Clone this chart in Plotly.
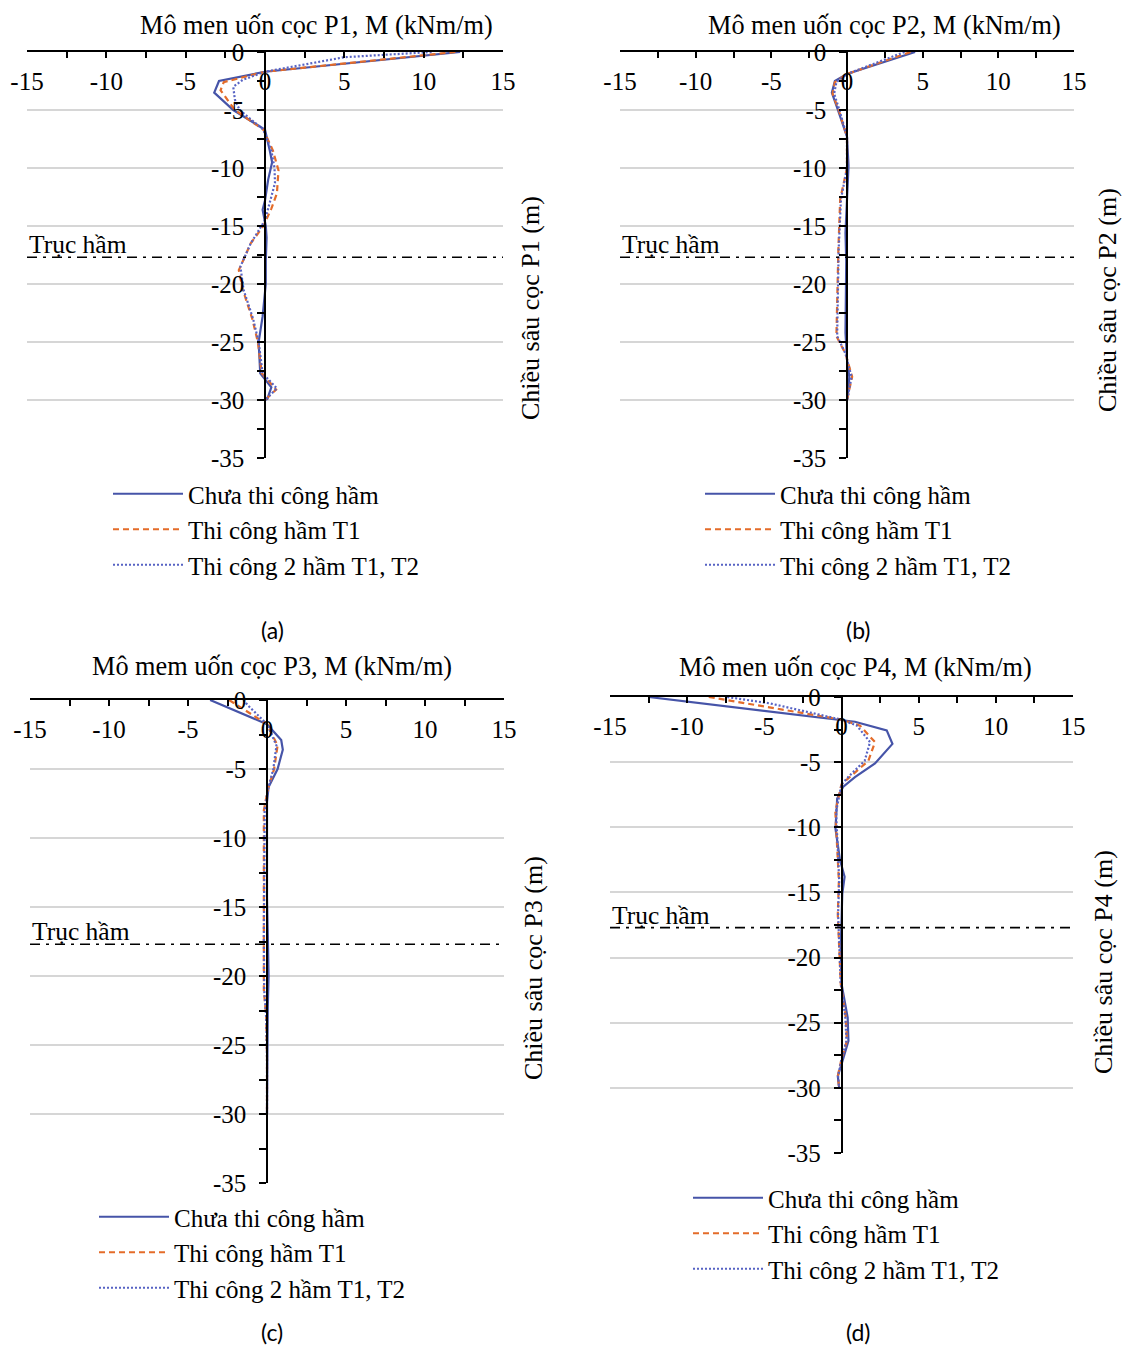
import plotly.graph_objects as go

W, H = 1125, 1347

# ---------------- data (depth z in m, moment M in kNm/m) ----------------
series_names = ["Chưa thi công hầm", "Thi công hầm T1", "Thi công 2 hầm T1, T2"]

x_tick_vals = [-15, -10, -5, 0, 5, 10, 15]
x_tick_text = ["-15", "-10", "-5", "0", "5", "10", "15"]
y_tick_vals = [0, -5, -10, -15, -20, -25, -30, -35]
y_tick_text = ["0", "-5", "-10", "-15", "-20", "-25", "-30", "-35"]

# Panel (a) - P1
A_z0 = [0, -1.7, -2.5, -3.5, -5.0, -6.7, -8.5, -9.5, -11.0, -12.8, -13.6, -15.0, -16.0, -18.0, -20.0, -22.8, -25.0, -27.7, -28.9, -29.9, -30.0]
A_m0 = [12.3, 0.0, -2.9, -3.2, -2.0, 0.0, 0.3, 0.45, 0.2, 0.0, -0.15, 0.05, 0.1, 0.05, 0.05, -0.15, -0.4, -0.3, 0.4, 0.15, 0.0]
A_z1 = [0, -1.7, -2.6, -3.3, -5.0, -6.7, -8.5, -10.2, -12.2, -13.5, -15.0, -16.5, -18.8, -20.5, -23.0, -25.0, -27.7, -29.1, -30.0]
A_m1 = [12.0, 0.0, -2.6, -2.8, -1.9, -0.1, 0.5, 0.85, 0.75, 0.4, -0.1, -0.9, -1.65, -1.4, -0.8, -0.45, -0.2, 0.7, 0.0]
A_z2 = [0, -0.45, -1.7, -2.4, -3.0, -4.1, -5.0, -6.7, -8.5, -10.0, -11.3, -13.0, -14.5, -16.5, -18.5, -20.5, -23.0, -25.0, -27.7, -29.0, -30.0]
A_m2 = [10.5, 5.0, 0.0, -1.4, -2.0, -1.9, -1.6, -0.1, 0.4, 0.6, 0.63, 0.3, 0.0, -0.9, -1.55, -1.35, -0.75, -0.4, -0.15, 0.75, 0.0]

# Panel (b) - P2
B_z0 = [0, -1.9, -2.5, -3.5, -5.0, -7.3, -9.8, -12.5, -15.6, -18.0, -21.3, -24.2, -26.5, -28.0, -29.8, -30.0]
B_m0 = [4.5, 0.0, -0.8, -1.0, -0.6, 0.0, 0.1, 0.0, -0.1, -0.05, -0.05, -0.1, 0.0, 0.15, 0.05, 0.0]
B_z1 = [0, -1.9, -2.6, -3.6, -5.0, -7.3, -10.0, -12.7, -17.0, -21.3, -24.5, -26.0, -28.0, -29.4, -30.0]
B_m1 = [4.2, 0.0, -0.8, -0.95, -0.55, 0.0, 0.0, -0.45, -0.57, -0.64, -0.7, -0.1, 0.34, 0.1, 0.0]
B_z2 = [0, -1.9, -2.6, -3.6, -5.0, -7.3, -10.0, -12.7, -17.0, -21.3, -24.5, -26.0, -28.0, -29.4, -30.0]
B_m2 = [3.8, 0.0, -0.7, -0.85, -0.5, 0.0, 0.0, -0.4, -0.55, -0.6, -0.65, -0.1, 0.3, 0.1, 0.0]

# Panel (c) - P3
C_z0 = [0, -1.75, -2.9, -3.6, -5.0, -6.3, -7.4, -10.0, -14.3, -17.0, -20.0, -22.2, -26.3, -30.0]
C_m0 = [-3.6, 0.0, 0.9, 1.0, 0.67, 0.1, 0.0, 0.0, 0.0, 0.05, 0.1, 0.05, 0.0, 0.0]
C_z1 = [0, -1.75, -3.3, -5.0, -6.5, -8.0, -12.0, -17.0, -21.0, -23.0, -26.0, -30.0]
C_m1 = [-2.4, 0.0, 0.67, 0.45, 0.05, -0.2, -0.2, -0.22, -0.2, -0.05, 0.0, 0.0]
C_z2 = [0, -0.4, -1.75, -3.3, -5.0, -6.5, -8.0, -12.0, -17.0, -21.0, -23.0, -26.0, -30.0]
C_m2 = [-1.5, -1.2, 0.0, 0.6, 0.4, 0.05, -0.15, -0.18, -0.2, -0.18, -0.05, 0.0, 0.0]

# Panel (d) - P4
D_z0 = [0, -1.74, -1.9, -2.56, -3.6, -5.1, -6.15, -6.9, -7.8, -10.1, -12.5, -13.8, -15.1, -19.3, -22.0, -24.6, -26.4, -28.0, -29.1, -30.0]
D_m0 = [-12.5, 0.0, 0.87, 2.93, 3.3, 2.17, 0.87, 0.1, -0.28, -0.39, -0.1, 0.2, 0.05, -0.05, 0.0, 0.4, 0.45, 0.05, -0.24, -0.15]
D_z1 = [0, -1.74, -2.2, -3.46, -4.9, -6.0, -6.7, -8.8, -11.4, -14.1, -16.7, -19.3, -22.0, -24.6, -26.4, -27.8, -29.1, -30.0]
D_m1 = [-8.6, 0.0, 1.2, 2.17, 1.74, 0.65, 0.0, -0.4, -0.28, -0.17, -0.24, -0.17, -0.05, 0.28, 0.35, 0.0, -0.24, -0.15]
D_z2 = [0, -0.5, -1.74, -2.2, -3.46, -4.9, -6.0, -6.7, -8.8, -11.4, -14.1, -16.7, -19.3, -22.0, -24.6, -26.4, -27.8, -29.1, -30.0]
D_m2 = [-7.4, -4.6, 0.0, 1.0, 1.85, 1.5, 0.55, 0.0, -0.35, -0.25, -0.15, -0.22, -0.15, -0.05, 0.25, 0.32, 0.0, -0.22, -0.15]

tunnel_axis_depth = -17.7
x_titles = ["Mô men uốn cọc P1, M (kNm/m)", "Mô men uốn cọc P2, M (kNm/m)",
            "Mô mem uốn cọc P3, M (kNm/m)", "Mô men uốn cọc P4, M (kNm/m)"]
y_titles = ["Chiều sâu cọc P1 (m)", "Chiều sâu cọc P2 (m)",
            "Chiều sâu cọc P3 (m)", "Chiều sâu cọc P4 (m)"]
panel_labels = ["(a)", "(b)", "(c)", "(d)"]
tunnel_label = "Trục hầm"

panels = [
    [(A_m0, A_z0), (A_m1, A_z1), (A_m2, A_z2)],
    [(B_m0, B_z0), (B_m1, B_z1), (B_m2, B_z2)],
    [(C_m0, C_z0), (C_m1, C_z1), (C_m2, C_z2)],
    [(D_m0, D_z0), (D_m1, D_z1), (D_m2, D_z2)],
]

# ---------------- styling / layout (pixel geometry) ----------------
SERIF = "Liberation Serif"
colors = ["#4654A8", "#E46C2A", "#5763C4"]
dashes = ["solid", "6px,4px", "2px,2px"]

# plot boxes in pixels: (left, right, top(y=0), bottom(y=-35))
boxes = [(27, 503, 52, 458), (620, 1074, 52, 458), (30, 504, 700, 1183), (610, 1073, 697, 1153)]
xtitle_pos = [(316, 25), (884, 25), (272, 666), (856, 668)]
ytitle_pos = [(530, 308), (1107, 300), (533, 968), (1103, 962)]
legend_pos = [(108, 471), (700, 471), (94, 1194), (688, 1175)]
label_pos = [(272, 630), (858, 630), (272, 1332), (858, 1332)]

def px(x):
    return x / W

def py(y):
    return 1 - y / H

fig = go.Figure()
layout = dict(width=W, height=H, margin=dict(l=0, r=0, t=0, b=0, autoexpand=False),
              paper_bgcolor="white", plot_bgcolor="white", showlegend=True,
              font=dict(family=SERIF, size=25, color="black"))
annotations = []
shapes = []

for i, (series, box) in enumerate(zip(panels, boxes)):
    k = "" if i == 0 else str(i + 1)
    xa, ya = "x" + k, "y" + k
    leg = "legend" + k
    for j, (m, z) in enumerate(series):
        fig.add_trace(go.Scatter(
            x=m, y=z, mode="lines", name=series_names[j], legend=leg,
            xaxis=xa, yaxis=ya,
            line=dict(color=colors[j], width=2.2, dash=dashes[j]),
        ))
    l, r, t, b = box
    xd = [px(l), px(r)]
    yd = [py(b), py(t)]
    tickfont = dict(family=SERIF, size=25, color="black")
    layout["xaxis" + k] = dict(
        domain=xd, anchor=ya, side="top", range=[-15, 15],
        tickmode="array", tickvals=x_tick_vals, ticktext=x_tick_text,
        ticks="inside", ticklen=6, tickwidth=1.5, tickcolor="black",
        ticklabelposition="outside", ticklabelstandoff=-50, tickfont=tickfont,
        showline=True, linecolor="black", linewidth=1.5,
        showgrid=False, zeroline=False, automargin=False,
        minor=dict(dtick=2.5, tick0=0, ticks="inside", ticklen=6, tickwidth=1.5, tickcolor="black", showgrid=False),
    )
    layout["yaxis" + k] = dict(
        domain=yd, anchor="free", position=(xd[0] + xd[1]) / 2, range=[-35, 0],
        tickmode="array", tickvals=y_tick_vals, ticktext=y_tick_text,
        ticks="outside", ticklen=7, tickwidth=1.5, tickcolor="black", ticklabelstandoff=8,
        tickfont=tickfont, showline=True, linecolor="black", linewidth=1.5,
        showgrid=True, gridcolor="#d6d6d6", gridwidth=1.5, zeroline=False, automargin=False,
        minor=dict(dtick=2.5, tick0=0, ticks="outside", ticklen=7, tickwidth=1.5, tickcolor="black", showgrid=False),
    )
    lx, ly = legend_pos[i]
    layout[leg] = dict(x=px(lx), y=py(ly), xanchor="left", yanchor="top",
                       bgcolor="rgba(0,0,0,0)", font=dict(family=SERIF, size=25, color="black"),
                       itemwidth=70, tracegroupgap=0)
    # tunnel axis line
    shapes.append(dict(type="line", xref=xa, yref=ya, x0=-15, x1=15.3,
                       y0=tunnel_axis_depth, y1=tunnel_axis_depth,
                       line=dict(color="black", width=1.6, dash="10px,6px,3px,6px")))
    annotations.append(dict(text=tunnel_label, xref=xa, yref=ya, x=-15, y=tunnel_axis_depth,
                            xanchor="left", yanchor="bottom", yshift=-4, showarrow=False,
                            font=dict(family=SERIF, size=25.5, color="black")))
    tx, ty = xtitle_pos[i]
    annotations.append(dict(text=x_titles[i], xref="paper", yref="paper", x=px(tx), y=py(ty),
                            xanchor="center", yanchor="middle", showarrow=False,
                            font=dict(family=SERIF, size=26.3, color="black")))
    rx, ry = ytitle_pos[i]
    annotations.append(dict(text=y_titles[i], xref="paper", yref="paper", x=px(rx), y=py(ry),
                            xanchor="center", yanchor="middle", textangle=-90, showarrow=False,
                            font=dict(family=SERIF, size=26, color="black")))
    cx, cy = label_pos[i]
    annotations.append(dict(text=panel_labels[i], xref="paper", yref="paper", x=px(cx), y=py(cy),
                            xanchor="center", yanchor="middle", showarrow=False,
                            font=dict(family="Lato", size=23, color="black")))

layout["annotations"] = annotations
layout["shapes"] = shapes
fig.update_layout(**layout)
fig.write_html("out.html")
